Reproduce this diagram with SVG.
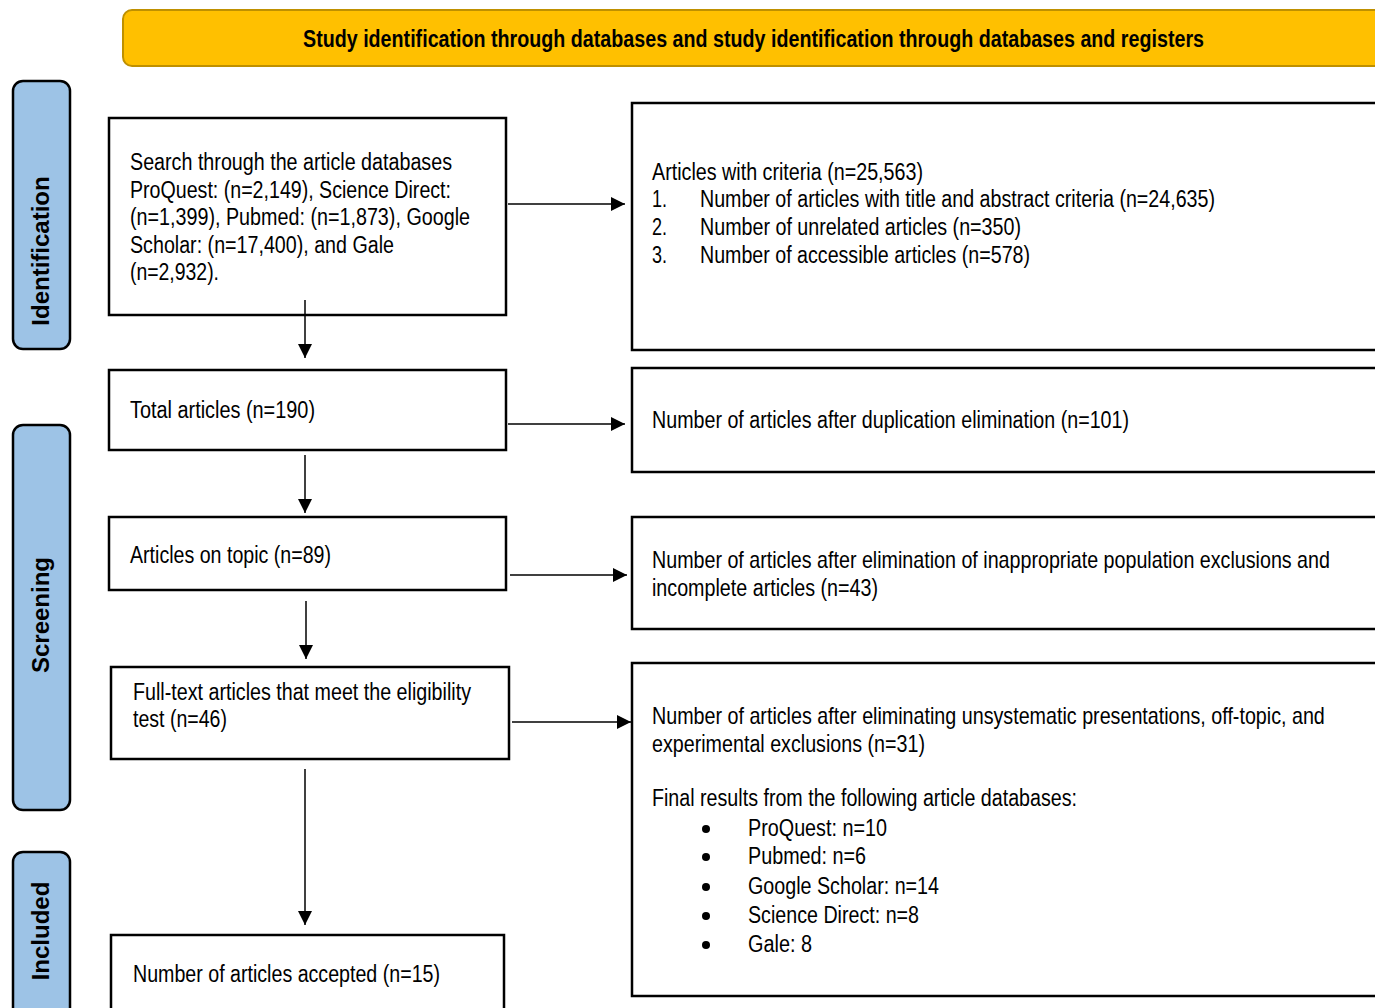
<svg xmlns="http://www.w3.org/2000/svg" width="1375" height="1008" viewBox="0 0 1375 1008">
<defs>
<marker id="ah" viewBox="0 0 14 14" refX="14" refY="7" markerWidth="14" markerHeight="14" markerUnits="userSpaceOnUse" orient="auto"><path d="M0,0 L14,7 L0,14 z" fill="#000"/></marker>
<style>
.box{fill:#fff;stroke:#000;stroke-width:2.5}
.side{fill:#9DC3E6;stroke:#000;stroke-width:2.5}
.t{font-family:"Liberation Sans",Arial,sans-serif;font-size:23px;fill:#000}
.s{font-family:"Liberation Sans",Arial,sans-serif;font-size:24px;font-weight:bold;fill:#000}
.h{font-family:"Liberation Sans",Arial,sans-serif;font-size:23px;font-weight:bold;fill:#000}
.c{stroke:#000;stroke-width:1.5;fill:none}
</style>
</defs>
<rect width="1375" height="1008" fill="#fff"/>
<g id="header"><rect x="123" y="10" width="1270" height="56" rx="9" fill="#FFC000" stroke="#BF9000" stroke-width="2"/><text class="h" x="303" y="47" textLength="901" lengthAdjust="spacingAndGlyphs">Study identification through databases and study identification through databases and registers</text></g>
<g id="stage-identification"><rect class="side" x="13" y="81" width="57" height="268" rx="10"/><text class="s" transform="translate(49,251) rotate(-90)" text-anchor="middle">Identification</text></g>
<g id="stage-screening"><rect class="side" x="13" y="425" width="57" height="385" rx="10"/><text class="s" transform="translate(49,615) rotate(-90)" text-anchor="middle">Screening</text></g>
<g id="stage-included"><rect class="side" x="13" y="852" width="57" height="170" rx="10"/><text class="s" transform="translate(49,931) rotate(-90)" text-anchor="middle">Included</text></g>

<g id="n-search"><rect class="box" x="109" y="118" width="397" height="197"/><text class="t" x="130" y="170" textLength="322" lengthAdjust="spacingAndGlyphs">Search through the article databases</text><text class="t" x="130" y="198" textLength="321" lengthAdjust="spacingAndGlyphs">ProQuest: (n=2,149), Science Direct:</text><text class="t" x="130" y="225" textLength="340" lengthAdjust="spacingAndGlyphs">(n=1,399), Pubmed: (n=1,873), Google</text><text class="t" x="130" y="253" textLength="264" lengthAdjust="spacingAndGlyphs">Scholar: (n=17,400), and Gale</text><text class="t" x="130" y="280" textLength="89" lengthAdjust="spacingAndGlyphs">(n=2,932).</text></g>
<g id="n-total"><rect class="box" x="109" y="370" width="397" height="80"/><text class="t" x="130" y="418" textLength="185" lengthAdjust="spacingAndGlyphs">Total articles (n=190)</text></g>
<g id="n-topic"><rect class="box" x="109" y="517" width="397" height="73"/><text class="t" x="130" y="563" textLength="201" lengthAdjust="spacingAndGlyphs">Articles on topic (n=89)</text></g>
<g id="n-fulltext"><rect class="box" x="111" y="667" width="398" height="92"/><text class="t" x="133" y="700" textLength="338" lengthAdjust="spacingAndGlyphs">Full-text articles that meet the eligibility</text><text class="t" x="133" y="727" textLength="94" lengthAdjust="spacingAndGlyphs">test (n=46)</text></g>
<g id="n-accepted"><rect class="box" x="111" y="935" width="393" height="90"/><text class="t" x="133" y="982" textLength="307" lengthAdjust="spacingAndGlyphs">Number of articles accepted (n=15)</text></g>

<g id="n-criteria"><rect class="box" x="632" y="103" width="760" height="247"/><text class="t" x="652" y="180" textLength="271" lengthAdjust="spacingAndGlyphs">Articles with criteria (n=25,563)</text><text class="t" x="652" y="207" textLength="15" lengthAdjust="spacingAndGlyphs">1.</text><text class="t" x="700" y="207" textLength="515" lengthAdjust="spacingAndGlyphs">Number of articles with title and abstract criteria (n=24,635)</text><text class="t" x="652" y="235" textLength="15" lengthAdjust="spacingAndGlyphs">2.</text><text class="t" x="700" y="235" textLength="321" lengthAdjust="spacingAndGlyphs">Number of unrelated articles (n=350)</text><text class="t" x="652" y="263" textLength="15" lengthAdjust="spacingAndGlyphs">3.</text><text class="t" x="700" y="263" textLength="330" lengthAdjust="spacingAndGlyphs">Number of accessible articles (n=578)</text></g>
<g id="n-dup"><rect class="box" x="632" y="368" width="760" height="104"/><text class="t" x="652" y="428" textLength="477" lengthAdjust="spacingAndGlyphs">Number of articles after duplication elimination (n=101)</text></g>
<g id="n-pop"><rect class="box" x="632" y="517" width="760" height="112"/><text class="t" transform="translate(652,568) scale(0.856,1)" x="0" y="0" textLength="792" lengthAdjust="spacingAndGlyphs">Number of articles after elimination of inappropriate population exclusions and</text><text class="t" x="652" y="596" textLength="226" lengthAdjust="spacingAndGlyphs">incomplete articles (n=43)</text></g>
<g id="n-final"><rect class="box" x="632" y="663" width="760" height="333"/><text class="t" transform="translate(652,724) scale(0.856,1)" x="0" y="0" textLength="786" lengthAdjust="spacingAndGlyphs">Number of articles after eliminating unsystematic presentations, off-topic, and</text><text class="t" x="652" y="752" textLength="273" lengthAdjust="spacingAndGlyphs">experimental exclusions (n=31)</text><text class="t" x="652" y="806" textLength="425" lengthAdjust="spacingAndGlyphs">Final results from the following article databases:</text>
<g fill="#000"><circle cx="706" cy="829" r="4"/><circle cx="706" cy="857" r="4"/><circle cx="706" cy="887" r="4"/><circle cx="706" cy="916" r="4"/><circle cx="706" cy="945" r="4"/></g>
<text class="t" x="748" y="836" textLength="139" lengthAdjust="spacingAndGlyphs">ProQuest: n=10</text><text class="t" x="748" y="864" textLength="118" lengthAdjust="spacingAndGlyphs">Pubmed: n=6</text><text class="t" x="748" y="894" textLength="191" lengthAdjust="spacingAndGlyphs">Google Scholar: n=14</text><text class="t" x="748" y="923" textLength="171" lengthAdjust="spacingAndGlyphs">Science Direct: n=8</text><text class="t" x="748" y="952" textLength="64" lengthAdjust="spacingAndGlyphs">Gale: 8</text></g>

<g id="connectors">
<line class="c" x1="508" y1="204" x2="625" y2="204" marker-end="url(#ah)"/>
<line class="c" x1="508" y1="424" x2="625" y2="424" marker-end="url(#ah)"/>
<line class="c" x1="510" y1="575" x2="627" y2="575" marker-end="url(#ah)"/>
<line class="c" x1="512" y1="722" x2="631" y2="722" marker-end="url(#ah)"/>
<line class="c" x1="305" y1="300" x2="305" y2="358" marker-end="url(#ah)"/>
<line class="c" x1="305" y1="455" x2="305" y2="513" marker-end="url(#ah)"/>
<line class="c" x1="306" y1="601" x2="306" y2="659" marker-end="url(#ah)"/>
<line class="c" x1="305" y1="769" x2="305" y2="925" marker-end="url(#ah)"/>
</g>
</svg>
